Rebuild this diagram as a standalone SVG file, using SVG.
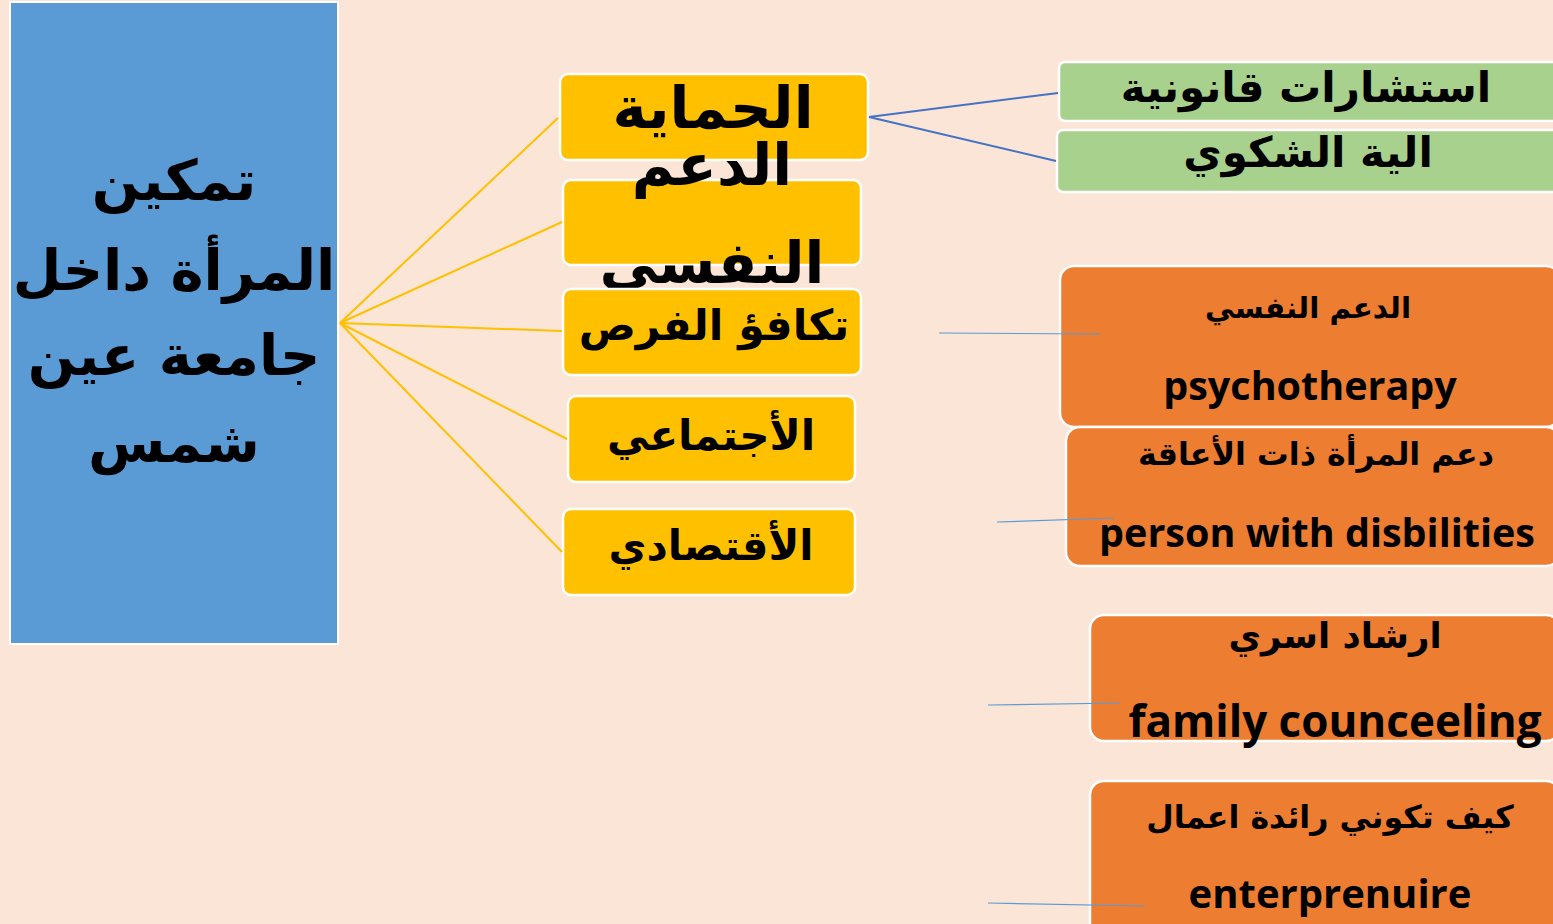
<svg xmlns="http://www.w3.org/2000/svg" width="1553" height="924" viewBox="0 0 1553 924">
<style>
.ar{font-family:"DejaVu Sans","Noto Sans",sans-serif;font-weight:bold;fill:#000;text-anchor:middle;direction:rtl}
.en{font-family:"Open Sans","Noto Sans",sans-serif;font-weight:bold;fill:#000;text-anchor:middle}
.y{fill:#FFC000;stroke:#fff;stroke-width:2.5}
.g{fill:#A9D18E;stroke:#fff;stroke-width:2.5}
.o{fill:#ED7D31;stroke:#fff;stroke-width:2.5}
.cy{stroke:#FFC000;stroke-width:2;fill:none}
.cb{stroke:#4472C4;stroke-width:2;fill:none}
.cl{stroke:#5B9BD5;stroke-width:1.2;fill:none}
</style>
<rect width="1553" height="924" fill="#FBE5D6"/>
<g id="root">
<rect x="10" y="2" width="328" height="642" fill="#5B9BD5" stroke="#fff" stroke-width="2"/>
<text class="ar" font-size="56" x="174" y="200">تمكين</text>
<text class="ar" font-size="56" x="174" y="290">المرأة داخل</text>
<text class="ar" font-size="56" x="174" y="375">جامعة عين</text>
<text class="ar" font-size="56" x="174" y="462">شمس</text>
</g>
<g id="n1">
<rect class="y" x="560" y="74" width="308" height="86" rx="8"/>
<text class="ar" font-size="58" x="713" y="128">الحماية</text>
</g>
<g id="n2">
<rect class="y" x="563" y="180" width="298" height="85" rx="8"/>
<text class="ar" font-size="58" x="712" y="185">الدعم</text>
<text class="ar" font-size="58" x="712" y="283">النفسي</text>
</g>
<g id="n3">
<rect class="y" x="563" y="289" width="298" height="86" rx="8"/>
<text class="ar" font-size="42.5" x="714" y="340">تكافؤ الفرص</text>
</g>
<g id="n4">
<rect class="y" x="568" y="396" width="287" height="86" rx="8"/>
<text class="ar" font-size="42" x="711" y="450">الأجتماعي</text>
</g>
<g id="n5">
<rect class="y" x="563" y="509" width="292" height="86" rx="8"/>
<text class="ar" font-size="41.5" x="711" y="560">الأقتصادي</text>
</g>
<g id="g1">
<rect class="g" x="1059" y="62" width="500" height="59" rx="6"/>
<text class="ar" font-size="42" x="1306" y="102">استشارات قانونية</text>
</g>
<g id="g2">
<rect class="g" x="1057" y="130" width="502" height="62" rx="6"/>
<text class="ar" font-size="42" x="1308" y="167">الية الشكوي</text>
</g>
<g id="o1">
<rect class="o" x="1060" y="266" width="500" height="161" rx="14"/>
<text class="ar" font-size="29.5" x="1308" y="318">الدعم النفسي</text>
<text class="en" font-size="39.5" x="1310" y="400">psychotherapy</text>
</g>
<g id="o2">
<rect class="o" x="1066" y="427" width="494" height="139" rx="14"/>
<text class="ar" font-size="31.7" x="1316" y="465">دعم المرأة ذات الأعاقة</text>
<text class="en" font-size="39.5" x="1317" y="547">person with disbilities</text>
</g>
<g id="o3">
<rect class="o" x="1090" y="615" width="470" height="126" rx="14"/>
<text class="ar" font-size="35.5" x="1335" y="648">ارشاد اسري</text>
<text class="en" font-size="44" x="1335" y="737">family counceeling</text>
</g>
<g id="o4">
<rect class="o" x="1090" y="781" width="470" height="160" rx="14"/>
<text class="ar" font-size="31.7" x="1330" y="828">كيف تكوني رائدة اعمال</text>
<text class="en" font-size="40" x="1330" y="908">enterprenuire</text>
</g>
<g id="connectors">
<line class="cy" x1="340" y1="323" x2="558" y2="118"/>
<line class="cy" x1="340" y1="323" x2="562" y2="222"/>
<line class="cy" x1="340" y1="323" x2="562" y2="331"/>
<line class="cy" x1="340" y1="323" x2="567" y2="439"/>
<line class="cy" x1="340" y1="323" x2="562" y2="552"/>
<line class="cb" x1="869" y1="117" x2="1058" y2="93"/>
<line class="cb" x1="869" y1="117" x2="1056" y2="161"/>
<line class="cl" x1="939" y1="333" x2="1100" y2="334"/>
<line class="cl" x1="997" y1="522" x2="1114" y2="518"/>
<line class="cl" x1="988" y1="705" x2="1120" y2="703"/>
<line class="cl" x1="988" y1="903" x2="1145" y2="906"/>
</g>
</svg>
